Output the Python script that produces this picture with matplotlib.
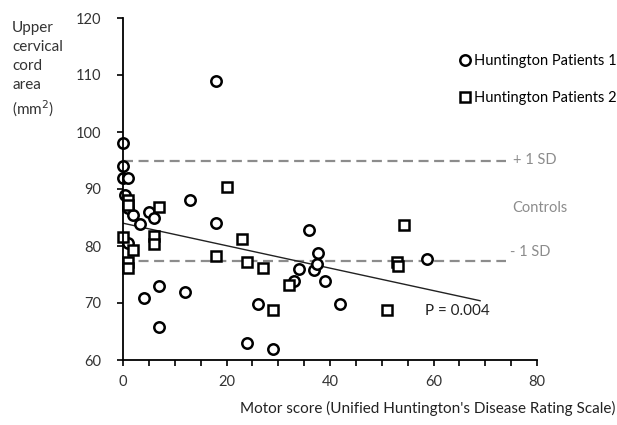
import matplotlib
matplotlib.use("Agg")
import matplotlib.pyplot as plt
from matplotlib.ticker import MultipleLocator

plt.rcParams['font.family'] = ['Lato', 'DejaVu Sans']

# Huntington Patients 1 (circles): motor score, cord area
p1_score = [0, 0, 0, 1, 0.4, 1, 2, 3.2, 1, 5, 6, 13, 18, 18,
            4, 7, 7, 12, 24, 26, 29, 33, 34, 36, 37, 37.5, 37.7, 39, 42, 58.7]
p1_area = [98, 94, 92, 92, 89, 86.7, 85.4, 83.8, 80.5, 86, 85, 88, 84, 109,
           70.8, 72.9, 65.8, 71.9, 62.9, 69.8, 61.9, 73.9, 75.9, 82.8, 75.8, 76.8, 78.8, 73.9, 69.9, 77.8]

# Huntington Patients 2 (squares)
p2_score = [1, 1, 7, 0, 2, 1, 1, 6, 6, 20, 18, 23, 24, 27, 29, 32, 51, 53, 53.2, 54.3]
p2_area = [88.1, 87.2, 86.9, 81.5, 79.3, 77.2, 76.1, 81.8, 80.3, 90.4, 78.2, 81.2, 77.2, 76.2,
           68.8, 73.2, 68.7, 77.2, 76.5, 83.7]

# regression line ends and control +/- 1 SD
fit_x = [0, 69]
fit_y = [84, 70.4]
sd_upper = 95
sd_lower = 77.3
sd_x = [0, 74]

fig = plt.figure(figsize=(6.17, 4.25), dpi=100)
ax = fig.add_axes([123/617, 1 - 360/425, 414/617, 342/425])

ax.plot(sd_x, [sd_upper, sd_upper], color='#8c8c8c', lw=1.6, ls=(0, (4.5, 2.5)))
ax.plot(sd_x, [sd_lower, sd_lower], color='#8c8c8c', lw=1.6, ls=(0, (4.5, 2.5)))
ax.plot(fit_x, fit_y, color='#222222', lw=1.0)

ax.plot(p1_score, p1_area, 'o', ms=7.5, mfc='white', mec='black', mew=1.8,
        label='Huntington Patients 1', clip_on=False)
ax.plot(p2_score, p2_area, 's', ms=7.5, mfc='white', mec='black', mew=1.8,
        label='Huntington Patients 2', clip_on=False)

ax.set_xlim(0, 80)
ax.set_ylim(60, 120)
ax.xaxis.set_major_locator(MultipleLocator(20))
ax.xaxis.set_minor_locator(MultipleLocator(5))
ax.yaxis.set_major_locator(MultipleLocator(10))
ax.tick_params(axis='both', which='both', direction='out', length=4, width=1.2,
               color='black', labelsize=10.5, labelcolor='#333333')
ax.tick_params(axis='x', pad=7)
ax.tick_params(axis='y', pad=12)
for s in ['top', 'right']:
    ax.spines[s].set_visible(False)
for s in ['left', 'bottom']:
    ax.spines[s].set_linewidth(1.3)

ax.text(75.3, sd_upper, '+ 1 SD', color='#8c8c8c', fontsize=10.5, va='center')
ax.text(75.2, 86.6, 'Controls', color='#8c8c8c', fontsize=10.5, va='center')
ax.text(74.8, 79.0, '- 1 SD', color='#8c8c8c', fontsize=10.5, va='center')
ax.text(58.4, 68.6, 'P = 0.004', color='#222222', fontsize=11, va='center')

ax.legend(loc='upper left', bbox_to_anchor=(460/617, 1 - 54/425),
          bbox_transform=fig.transFigure, frameon=False, fontsize=10.5,
          handlelength=0.7, handletextpad=0.25, labelspacing=1.55,
          borderaxespad=0, borderpad=0)

fig.text(12/617, 1 - 21/425, 'Upper\ncervical\ncord\narea\n(mm$^2$)',
         fontsize=11, color='#333333', va='top', ha='left', linespacing=1.45)
fig.text(240/617, 1 - 408/425,
         "Motor score (Unified Huntington's Disease Rating Scale)",
         fontsize=11, color='#222222', va='center', ha='left')

fig.savefig('out.png', dpi=100)
